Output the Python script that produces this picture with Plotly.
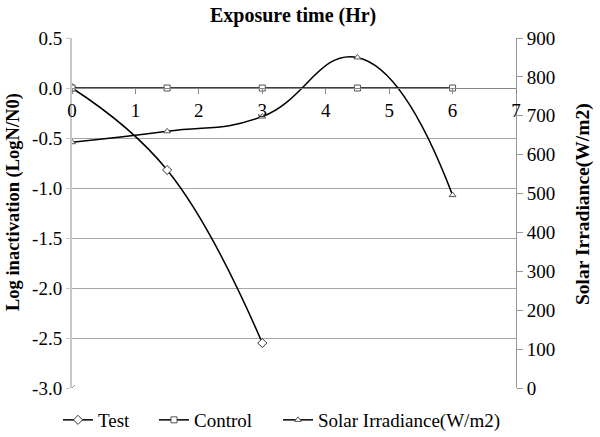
import plotly.graph_objects as go

time_test = [0, 1.5, 3]
test_vals = [0.0, -0.82, -2.55]
time_ctrl = [0, 1.5, 3, 4.5, 6]
ctrl_vals = [0.0, 0.0, 0.0, 0.0, 0.0]
time_solar = [0, 1.5, 3, 4.5, 6]
solar_vals = [632, 660, 698, 850, 496]
x_ticks = [0, 1, 2, 3, 4, 5, 6, 7]
y_left_ticks = [0.5, 0.0, -0.5, -1.0, -1.5, -2.0, -2.5, -3.0]
y_right_ticks = [0, 100, 200, 300, 400, 500, 600, 700, 800, 900]

FONT = "Liberation Serif"
ymin, ymax = -3.0, 0.5
TICK = 19
W, H = 600, 437
ML, MR, MT, MB = 72, 84, 38, 49

fig = go.Figure()
fig.add_trace(go.Scatter(x=time_test, y=test_vals, name="Test", mode="lines+markers",
                         legendwidth=51,
                         line=dict(color="black", width=1.5, shape="spline", smoothing=1.2),
                         marker=dict(symbol="diamond", size=7, color="white",
                                     line=dict(color="#333", width=1))))
fig.add_trace(go.Scatter(x=time_ctrl, y=ctrl_vals, name="Control", mode="lines+markers",
                         legendwidth=79,
                         line=dict(color="black", width=1.5),
                         marker=dict(symbol="square", size=6, color="white",
                                     line=dict(color="#555", width=1))))
fig.add_trace(go.Scatter(x=time_solar, y=solar_vals, name="Solar Irradiance(W/m2)",
                         mode="lines+markers", yaxis="y2", legendwidth=200,
                         line=dict(color="black", width=1.5, shape="spline", smoothing=1.3),
                         marker=dict(symbol="triangle-up", size=6, color="white",
                                     line=dict(color="#555", width=1))))
fig.add_trace(go.Scatter(x=[0], y=[ymin], mode="markers", showlegend=False,
                         marker=dict(symbol="x-thin", size=6, line=dict(color="#999", width=1))))

zero_pos = (0 - ymin) / (ymax - ymin)
pw, ph = W - ML - MR, H - MT - MB


def px(xp, yp):
    return (xp - ML) / pw, (H - MB - yp) / ph


fig.update_layout(
    width=W, height=H,
    margin=dict(l=ML, r=MR, t=MT, b=MB, autoexpand=False),
    paper_bgcolor="white", plot_bgcolor="white",
    font=dict(family=FONT, size=TICK, color="black"),
    showlegend=True,
    legend=dict(orientation="h", x=px(58, 0)[0], xanchor="left", y=px(0, 401)[1], yanchor="top",
                font=dict(size=TICK, family=FONT), tracegroupgap=0),
    xaxis=dict(range=[0, 7], tickvals=x_ticks, anchor="free", position=zero_pos,
               showgrid=False, zeroline=False, showline=True, linecolor="#888",
               linewidth=1, ticks="outside", ticklen=5, tickcolor="#888",
               tickfont=dict(size=TICK, family=FONT), automargin=False),
    yaxis=dict(range=[ymin, ymax], tickvals=y_left_ticks,
               ticktext=[f"{v:.1f}" for v in y_left_ticks],
               showgrid=True, gridcolor="#a6a6a6", gridwidth=1, zeroline=False,
               showline=True, linecolor="#c8c8c8", linewidth=2,
               ticks="outside", ticklen=4, tickcolor="#c8c8c8",
               tickfont=dict(size=TICK, family=FONT), automargin=False),
    yaxis2=dict(range=[0, 900], tickvals=y_right_ticks, overlaying="y", side="right",
                showgrid=False, zeroline=False, showline=True, linecolor="#999", linewidth=1,
                ticks="outside", ticklen=6, tickcolor="#999",
                tickfont=dict(size=TICK, family=FONT), automargin=False),
)

ax, ay = px(293, 15)
fig.add_annotation(text="<b>Exposure time (Hr)</b>", xref="paper", yref="paper", x=ax, y=ay,
                   xanchor="center", yanchor="middle",
                   showarrow=False, font=dict(size=20, family=FONT))
ax, ay = px(14, 202)
fig.add_annotation(text="<b>Log inactivation (LogN/N0)</b>", xref="paper", yref="paper", x=ax, y=ay,
                   xanchor="center", yanchor="middle",
                   showarrow=False, textangle=-90, font=dict(size=18.5, family=FONT))
ax, ay = px(583, 204)
fig.add_annotation(text="<b>Solar Irradiance(W/m2)</b>", xref="paper", yref="paper", x=ax, y=ay,
                   xanchor="center", yanchor="middle",
                   showarrow=False, textangle=-90, font=dict(size=19.5, family=FONT))

fig.write_html("out.html", config={"displayModeBar": False},
               post_script="document.body.style.margin='0';document.body.style.padding='0';")
